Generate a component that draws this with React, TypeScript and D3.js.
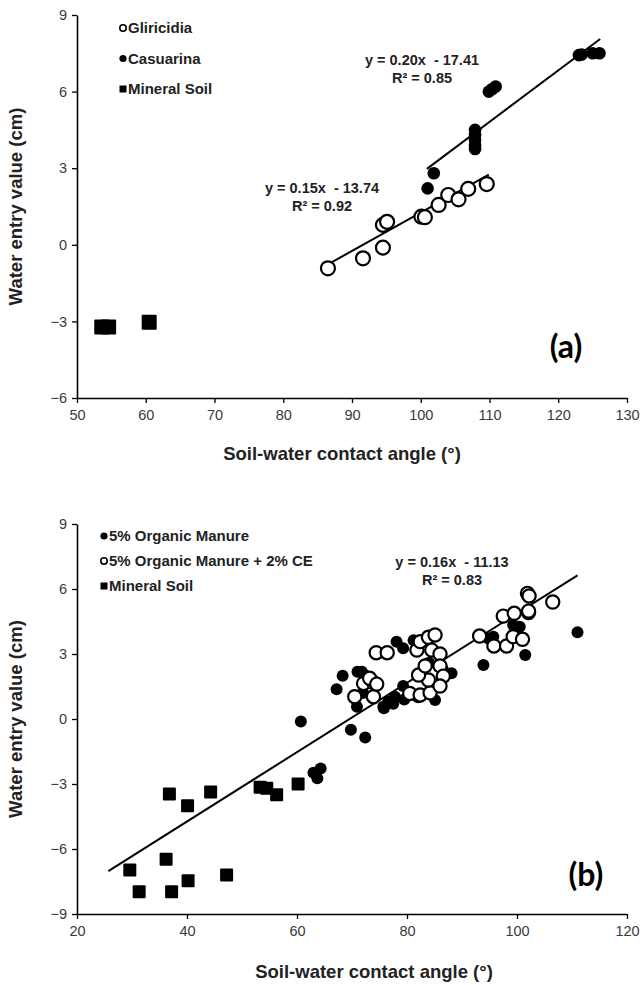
import React, { useEffect, useRef } from 'react';
import * as d3 from 'd3';

// panel (a)
const gliricidiaX = [86.5, 91.6, 94.5, 94.5, 95.1, 100.1, 100.6, 102.6, 104.0, 105.5, 106.9, 109.6];
const gliricidiaY = [-0.92, -0.53, -0.11, 0.78, 0.9, 1.1, 1.08, 1.56, 1.95, 1.78, 2.19, 2.38];
const casuarinaX = [101.0, 101.9, 107.9, 107.9, 107.9, 107.9, 107.9, 109.9, 110.4, 110.9, 123.0, 123.4, 125.0, 126.0];
const casuarinaY = [2.21, 2.8, 4.5, 4.3, 4.1, 3.9, 3.75, 6.0, 6.1, 6.2, 7.43, 7.45, 7.5, 7.5];
const mineralAX = [53.6, 54.6, 60.5];
const mineralAY = [-3.22, -3.22, -3.03];

// panel (b)
const manureX = [60.7, 63.0, 64.3, 63.7, 69.8, 72.4, 67.2, 68.3, 71.0, 71.8, 72.5, 70.9, 72.0, 75.7, 76.6, 77.8, 79.3,
  78.1, 79.3, 81.2, 85.1, 88.1, 93.9, 94.8, 95.7, 99.3, 100.5, 101.5, 111.0, 75.8, 77.5, 79.5, 82.0, 84.0, 86.5];
const manureY = [-0.12, -2.48, -2.28, -2.74, -0.5, -0.85, 1.37, 2.0, 2.18, 2.18, 2.0, 0.57, 1.2, 0.57, 0.8, 1.03, 1.52,
  3.57, 3.26, 3.64, 0.88, 2.11, 2.49, 3.72, 3.8, 4.34, 4.26, 2.95, 4.0, 0.5, 0.7, 0.9, 1.0, 2.6, 2.3];
const manureCEX = [74.4, 76.4, 72.1, 73.9, 73.2, 70.5, 73.9, 74.5, 80.5, 82.4, 84.2, 83.9, 82.1, 81.8, 82.4, 83.9, 85.1,
  84.5, 86.0, 86.0, 83.3, 86.6, 86.0, 93.2, 95.8, 97.5, 98.1, 99.5, 99.3, 101.0, 102.1, 101.9, 102.2, 106.5, 102.1];
const manureCEY = [3.06, 3.06, 1.64, 1.68, 1.88, 1.03, 1.03, 1.61, 1.18, 1.11, 1.21, 1.8, 2.03, 3.18, 3.57, 3.77, 3.88,
  3.18, 3.0, 2.45, 2.45, 1.98, 1.52, 3.83, 3.37, 4.75, 3.37, 4.88, 3.8, 3.68, 4.91, 5.8, 5.68, 5.4, 4.98];
const mineralBX = [29.6, 31.3, 36.2, 37.2, 40.2, 47.2, 36.8, 40.1, 44.3, 53.3, 54.5, 56.3, 60.2];
const mineralBY = [-6.97, -7.97, -6.47, -7.97, -7.47, -7.2, -3.46, -4.0, -3.37, -3.15, -3.2, -3.5, -3.0];

const xTicksA = [50, 60, 70, 80, 90, 100, 110, 120, 130];
const yTicksA = [9, 6, 3, 0, -3, -6];
const xTicksB = [20, 40, 60, 80, 100, 120];
const yTicksB = [9, 6, 3, 0, -3, -6, -9];

const narrow = "'Liberation Sans Narrow', 'Liberation Sans', Arial, sans-serif";
const sans = "'Liberation Sans', Arial, sans-serif";

function drawPanel(svg, cfg) {
  const x = d3.scaleLinear().domain(cfg.xDomain).range([77, 627]);
  const y = d3.scaleLinear().domain(cfg.yDomain).range([cfg.bottom, cfg.top]);
  const g = svg.append('g');

  // axes
  g.append('g')
    .attr('transform', `translate(0,${cfg.bottom})`)
    .call(d3.axisBottom(x).tickValues(cfg.xTicks).tickSize(5).tickPadding(7).tickSizeOuter(0))
    .call(s => {
      s.select('.domain').attr('stroke-width', 1.6);
      s.selectAll('.tick line').attr('stroke-width', 1.3);
      s.selectAll('.tick text').attr('font-size', 14.5).attr('font-family', narrow).attr('fill', '#3a3a3a');
    });
  g.append('g')
    .attr('transform', `translate(77,0)`)
    .call(d3.axisLeft(y).tickValues(cfg.yTicks).tickSize(5).tickPadding(5).tickSizeOuter(0))
    .call(s => {
      s.select('.domain').attr('stroke-width', 1.6);
      s.selectAll('.tick line').attr('stroke-width', 1.3);
      s.selectAll('.tick text').attr('font-size', 14.5).attr('font-family', narrow).attr('fill', '#3a3a3a');
    });

  // trend lines
  cfg.trends.forEach(t => {
    g.append('line')
      .attr('x1', x(t.x0)).attr('y1', y(t.slope * t.x0 + t.b))
      .attr('x2', x(t.x1)).attr('y2', y(t.slope * t.x1 + t.b))
      .attr('stroke', '#000').attr('stroke-width', 2);
  });

  // series
  cfg.series.forEach(s => {
    s.xs.forEach((xv, i) => {
      const px = x(xv), py = y(s.ys[i]);
      if (s.kind === 'square') {
        g.append('rect').attr('x', px - s.size / 2).attr('y', py - s.size / 2)
          .attr('width', s.size).attr('height', s.size).attr('rx', 1).attr('fill', '#000');
      } else if (s.kind === 'open') {
        g.append('circle').attr('cx', px).attr('cy', py).attr('r', s.size)
          .attr('fill', '#fff').attr('stroke', '#000').attr('stroke-width', 2.2);
      } else {
        g.append('circle').attr('cx', px).attr('cy', py).attr('r', s.size).attr('fill', '#000');
      }
    });
  });

  // legend
  cfg.legend.forEach((l, i) => {
    const ly = cfg.legendY + i * cfg.legendStep;
    if (l.kind === 'square') {
      g.append('rect').attr('x', cfg.legendX - 3.5).attr('y', ly - 3.5).attr('width', 7).attr('height', 7).attr('fill', '#000');
    } else if (l.kind === 'open') {
      g.append('circle').attr('cx', cfg.legendX).attr('cy', ly).attr('r', 3.2)
        .attr('fill', '#fff').attr('stroke', '#000').attr('stroke-width', 1.6);
    } else {
      g.append('circle').attr('cx', cfg.legendX).attr('cy', ly).attr('r', 3.6).attr('fill', '#000');
    }
    g.append('text').attr('x', cfg.legendX + 5).attr('y', ly).attr('dy', '0.35em')
      .attr('font-family', sans).attr('font-weight', 'bold').attr('font-size', 15).attr('fill', '#222')
      .text(l.label);
  });

  // equations
  cfg.eqs.forEach(e => {
    e.lines.forEach((txt, i) => {
      g.append('text').attr('x', e.x).attr('y', e.y + i * 17.5).attr('dy', '0.35em')
        .attr('text-anchor', 'middle').attr('font-family', sans).attr('font-weight', 'bold')
        .attr('font-size', 14.5).attr('fill', '#222').style('white-space', 'pre').text(txt);
    });
  });

  // panel tag
  g.append('text').attr('x', cfg.tagX).attr('y', cfg.tagY).attr('dy', '0.35em').attr('text-anchor', 'middle')
    .attr('font-family', "Lato, 'Open Sans', sans-serif").attr('font-weight', 'bold').attr('font-size', 32)
    .text(cfg.tag);

  // axis titles
  g.append('text').attr('x', cfg.xTitleX).attr('y', cfg.bottom + cfg.xTitleOffset).attr('text-anchor', 'middle')
    .attr('font-family', sans).attr('font-weight', 'bold').attr('font-size', 18.5).attr('fill', '#222')
    .text('Soil-water contact angle (°)');
  g.append('text')
    .attr('transform', `translate(16,${(cfg.top + cfg.bottom) / 2}) rotate(-90)`)
    .attr('dy', '0.35em').attr('text-anchor', 'middle')
    .attr('font-family', sans).attr('font-weight', 'bold').attr('font-size', 18.5).attr('fill', '#222')
    .text('Water entry value (cm)');
}

export default function App() {
  const ref = useRef(null);

  useEffect(() => {
    const svg = d3.select(ref.current);
    svg.selectAll('*').remove();

    drawPanel(svg, {
      xDomain: [50, 130], yDomain: [-6, 9], top: 15, bottom: 398,
      xTicks: xTicksA, yTicks: yTicksA,
      trends: [
        { slope: 0.15, b: -13.74, x0: 86.5, x1: 109.9 },
        { slope: 0.202, b: -17.41, x0: 100.9, x1: 126.1 },
      ],
      series: [
        { kind: 'open', xs: gliricidiaX, ys: gliricidiaY, size: 7 },
        { kind: 'filled', xs: casuarinaX, ys: casuarinaY, size: 6.3 },
        { kind: 'square', xs: mineralAX, ys: mineralAY, size: 15 },
      ],
      legend: [
        { kind: 'open', label: 'Gliricidia' },
        { kind: 'filled', label: 'Casuarina' },
        { kind: 'square', label: 'Mineral Soil' },
      ],
      legendX: 123, legendY: 28, legendStep: 30.5,
      eqs: [
        { x: 422, y: 60, lines: ['y = 0.20x  - 17.41', 'R² = 0.85'] },
        { x: 322, y: 188, lines: ['y = 0.15x  - 13.74', 'R² = 0.92'] },
      ],
      tag: '(a)', tagX: 566, tagY: 347, xTitleX: 342, xTitleOffset: 62,
    });

    drawPanel(svg, {
      xDomain: [20, 120], yDomain: [-9, 9], top: 524, bottom: 914,
      xTicks: xTicksB, yTicks: yTicksB,
      trends: [{ slope: 0.16, b: -11.13, x0: 25.7, x1: 111 }],
      series: [
        { kind: 'filled', xs: manureX, ys: manureY, size: 6 },
        { kind: 'open', xs: manureCEX, ys: manureCEY, size: 6.6 },
        { kind: 'square', xs: mineralBX, ys: mineralBY, size: 13 },
      ],
      legend: [
        { kind: 'filled', label: '5% Organic Manure' },
        { kind: 'open', label: '5% Organic Manure + 2% CE' },
        { kind: 'square', label: 'Mineral Soil' },
      ],
      legendX: 104, legendY: 536, legendStep: 25,
      eqs: [{ x: 452, y: 562, lines: ['y = 0.16x  - 11.13', 'R² = 0.83'] }],
      tag: '(b)', tagX: 586, tagY: 875, xTitleX: 374, xTitleOffset: 64,
    });
  }, []);

  return (
    <svg ref={ref} width={640} height={985}
      style={{ position: 'absolute', left: 0, top: 0, background: '#fff' }} />
  );
}
